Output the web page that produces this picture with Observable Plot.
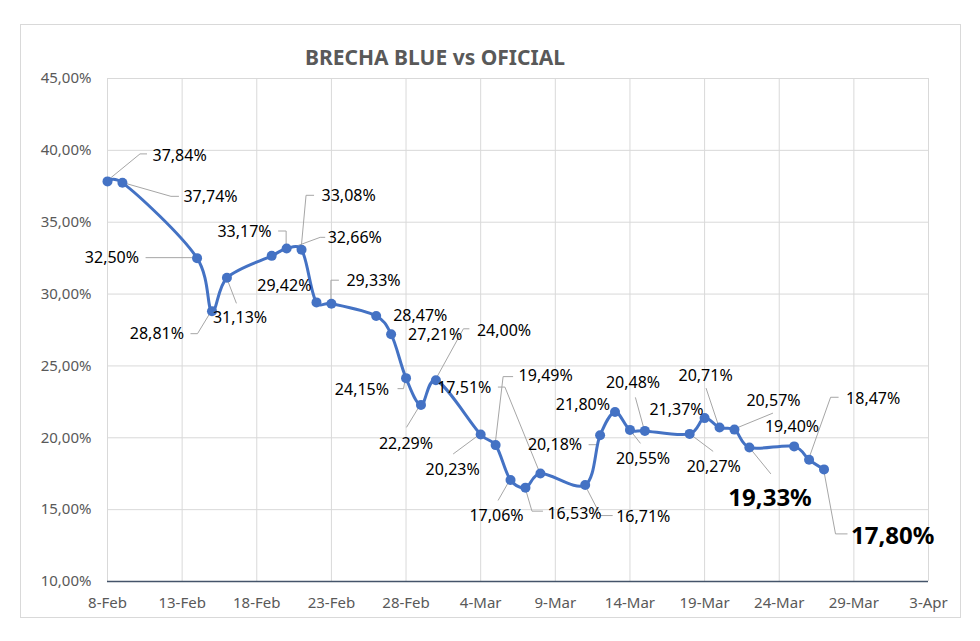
<!DOCTYPE html>
<html>
<head>
<meta charset="utf-8">
<script src="https://cdn.jsdelivr.net/npm/d3@7"></script>
<script src="https://cdn.jsdelivr.net/npm/@observablehq/plot@0.6"></script>
<style>
  html, body { margin: 0; padding: 0; background: #fff; }
  #wrap { position: relative; width: 980px; height: 641px; overflow: hidden; }
  #frame { position: absolute; left: 20px; top: 24px; width: 941px; height: 594px; border: 1.5px solid #d9d9d9; box-sizing: border-box; }
  #title { position: absolute; left: 0; width: 870px; top: 45px; text-align: center;
    font-family: "Noto Sans", sans-serif; font-weight: bold; font-size: 21px; line-height: 24px; color: #595959; }
  #chart { position: absolute; left: 0; top: 0; }
</style>
</head>
<body>
<div id="wrap">
  <div id="frame"></div>
  <div id="chart"></div>
  <div id="title">BRECHA BLUE vs OFICIAL</div>
</div>
<script>
// ---- data ----
const dates = [
  "2024-02-08","2024-02-09","2024-02-14","2024-02-15","2024-02-16",
  "2024-02-19","2024-02-20","2024-02-21","2024-02-22","2024-02-23",
  "2024-02-26","2024-02-27","2024-02-28","2024-02-29","2024-03-01",
  "2024-03-04","2024-03-05","2024-03-06","2024-03-07","2024-03-08",
  "2024-03-11","2024-03-12","2024-03-13","2024-03-14","2024-03-15",
  "2024-03-18","2024-03-19","2024-03-20","2024-03-21","2024-03-22",
  "2024-03-25","2024-03-26","2024-03-27"
];
const values = [
  37.84, 37.74, 32.50, 28.81, 31.13,
  32.66, 33.17, 33.08, 29.42, 29.33,
  28.47, 27.21, 24.15, 22.29, 24.00,
  20.23, 19.49, 17.06, 16.53, 17.51,
  16.71, 20.18, 21.80, 20.55, 20.48,
  20.27, 21.37, 20.71, 20.57, 19.33,
  19.40, 18.47, 17.80
];
const xTickDates = ["2024-02-08","2024-02-13","2024-02-18","2024-02-23","2024-02-28","2024-03-04",
  "2024-03-09","2024-03-14","2024-03-19","2024-03-24","2024-03-29","2024-04-03"];
const xTickLabels = ["8-Feb","13-Feb","18-Feb","23-Feb","28-Feb","4-Mar","9-Mar","14-Mar","19-Mar","24-Mar","29-Mar","3-Apr"];
const yTicks = [10, 15, 20, 25, 30, 35, 40, 45];
const yTickLabels = ["10,00%","15,00%","20,00%","25,00%","30,00%","35,00%","40,00%","45,00%"];

// ---- label layout (pixel offsets relative to each point) ----
const labelLayout = [
  {dx: 45, dy: -26, a: "start", leader: [[0,0],[33,-27],[40,-27]]},
  {dx: 61, dy: 14, a: "start", leader: [[0,0],[49,14],[57,14]]},
  {dx: -58, dy: 0, a: "end", leader: [[0,0],[-51,0]]},
  {dx: -28, dy: 23, a: "end", leader: [[0,0],[-14,23],[-21,23]]},
  {dx: -14, dy: 40, a: "start", leader: [[0,0],[10,26]]},
  {dx: 56, dy: -18, a: "start", leader: [[0,0],[49,-18],[54,-18]]},
  {dx: -15, dy: -17, a: "end", leader: [[0,0],[0,-17],[-8,-17]]},
  {dx: 20, dy: -54, a: "start", leader: [[0,0],[5,-54],[13,-54]]},
  {dx: -5, dy: -17, a: "end", leader: null},
  {dx: 15, dy: -23, a: "start", leader: [[0,0],[0,-23],[8,-23]]},
  {dx: 17, dy: 0, a: "start", leader: null},
  {dx: 17, dy: 1, a: "start", leader: null},
  {dx: -17, dy: 12, a: "end", leader: [[0,0],[-2,11],[-8,11]]},
  {dx: -15, dy: 39, a: "middle", leader: [[0,0],[-14,23]]},
  {dx: 41, dy: -49, a: "start", leader: [[0,0],[28,-51],[34,-51]]},
  {dx: -28, dy: 35, a: "middle", leader: [[0,0],[-27,20]]},
  {dx: 23, dy: -69, a: "start", leader: [[0,0],[8,-68],[18,-68]]},
  {dx: -14, dy: 36, a: "middle", leader: [[0,0],[-12,21]]},
  {dx: 22, dy: 26, a: "start", leader: [[0,0],[7,24],[18,24]]},
  {dx: -49, dy: -86, a: "end", leader: [[0,0],[-35,-86],[-42,-86]]},
  {dx: 31, dy: 32, a: "start", leader: [[0,0],[16,31],[28,31]]},
  {dx: -18, dy: 10, a: "end", leader: [[-3,10],[-11,10]]},
  {dx: -5, dy: -7, a: "end", leader: null},
  {dx: -14, dy: 29, a: "start", leader: [[0,0],[11,14]]},
  {dx: -39, dy: -48, a: "start", leader: [[0,0],[-9,-33]]},
  {dx: -3, dy: 33, a: "start", leader: [[0,0],[24,18]]},
  {dx: -1, dy: -8, a: "end", leader: null},
  {dx: -41, dy: -52, a: "start", leader: [[0,0],[-13,-39]]},
  {dx: 12, dy: -29, a: "start", leader: [[0,0],[39,-16]]},
  {dx: -21, dy: 51, a: "start", big: true, leader: [[0,0],[22,27]]},
  {dx: 25, dy: -20, a: "end", leader: null},
  {dx: 37, dy: -61, a: "start", leader: [[0,0],[22,-62],[30,-62]]},
  {dx: 27, dy: 67, a: "start", big: true, leader: [[0,0],[12,65],[24,65]]}
];

const parse = d3.utcParse("%Y-%m-%d");
const data = dates.map((d, i) => ({date: parse(d), value: values[i], label: values[i].toFixed(2).replace(".", ",") + "%"}));
const xTicks = xTickDates.map(parse);
const xLabelOf = new Map(xTicks.map((d, i) => [+d, xTickLabels[i]]));
const yLabelOf = new Map(yTicks.map((v, i) => [v, yTickLabels[i]]));

const FONT = "'Noto Sans', sans-serif";
const BLUE = "#4472C4";

function leaders(index, scales) {
  const g = d3.create("svg:g").attr("fill", "none").attr("stroke", "#a6a6a6").attr("stroke-width", 1);
  data.forEach((d, i) => {
    const L = labelLayout[i].leader;
    if (!L) return;
    const px = scales.x(d.date), py = scales.y(d.value);
    g.append("path").attr("d", d3.line()(L.map(([a, b]) => [px + a, py + b])));
  });
  return g.node();
}

const textMarks = data.map((d, i) => {
  const L = labelLayout[i];
  return Plot.text([d], {
    x: "date", y: "value", text: "label",
    dx: L.dx, dy: L.dy, textAnchor: L.a,
    fill: "black",
    fontFamily: FONT,
    fontSize: L.big ? 24 : 16,
    fontWeight: L.big ? "bold" : "normal"
  });
});

const chart = Plot.plot({
  width: 980,
  height: 641,
  marginTop: 78,
  marginLeft: 107,
  marginRight: 52,
  marginBottom: 60,
  style: {fontFamily: FONT, fontSize: "15px", color: "#595959", background: "transparent"},
  x: {type: "utc", domain: [parse("2024-02-08"), parse("2024-04-03")], ticks: xTicks,
      tickFormat: d => xLabelOf.get(+d), tickSize: 0, tickPadding: 16, label: null},
  y: {domain: [10, 45], ticks: yTicks, tickFormat: v => yLabelOf.get(v), tickSize: 0, tickPadding: 16, label: null},
  marks: [
    Plot.ruleY(yTicks.filter(v => v > 10), {stroke: "#d9d9d9", strokeWidth: 1}),
    Plot.ruleX(xTicks, {stroke: "#d9d9d9", strokeWidth: 1}),
    Plot.ruleY([10], {stroke: "#44546a", strokeWidth: 1.5}),
    leaders,
    Plot.line(data, {x: "date", y: "value", stroke: BLUE, strokeWidth: 3, curve: d3.curveCatmullRom.alpha(0.2)}),
    Plot.dot(data, {x: "date", y: "value", r: 5, fill: BLUE, stroke: "none"}),
    ...textMarks
  ]
});
document.getElementById("chart").appendChild(chart);
</script>
</body>
</html>
